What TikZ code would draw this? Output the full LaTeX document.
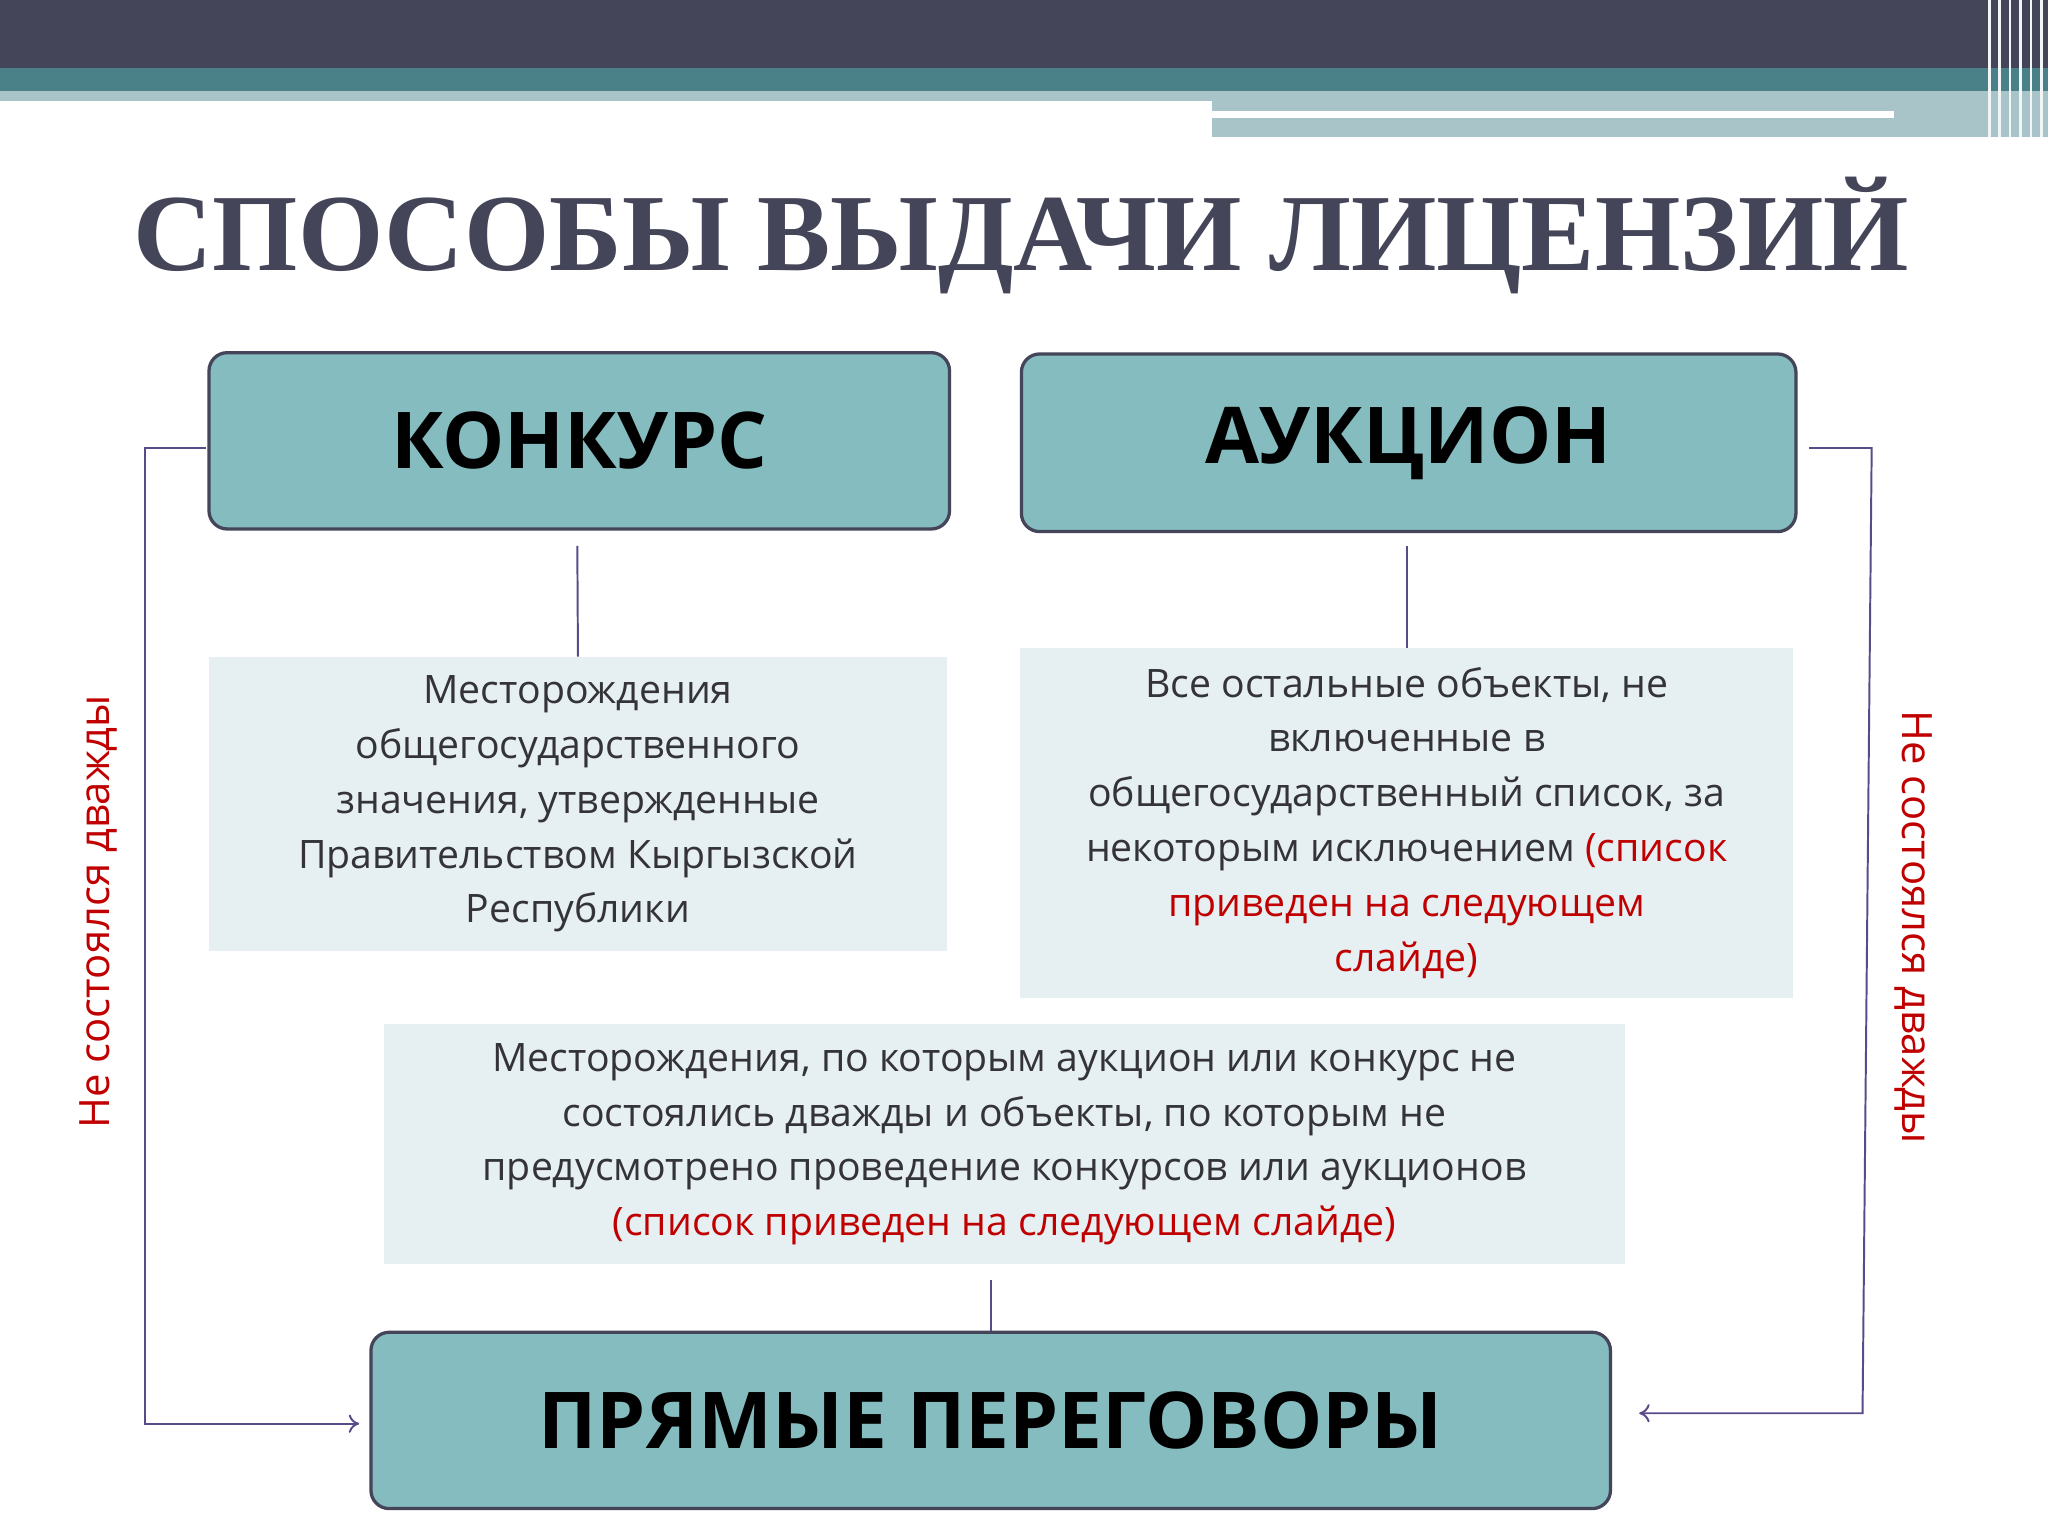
\documentclass[tikz,border=0pt]{standalone}
\usepackage{fontspec}
\usetikzlibrary{arrows.meta}
\setmainfont{Open Sans}
\newfontfamily\titlefont{Liberation Serif}
\definecolor{dark}{HTML}{45455A}
\definecolor{teal1}{HTML}{4A8088}
\definecolor{lteal}{HTML}{A8C4C8}
\definecolor{boxfill}{HTML}{85BCC0}
\definecolor{lightfill}{HTML}{E6EFF1}
\definecolor{linec}{HTML}{5A4A8A}
\definecolor{redt}{HTML}{C00000}
\definecolor{txt}{HTML}{333338}
\begin{document}
\begin{tikzpicture}[x=1pt,y=-1pt,
  bigbox/.style={draw=dark,line width=2.5pt,fill=boxfill,rounded corners=14pt,font=\fontsize{60}{70}\selectfont\bfseries},
  infobox/.style={fill=lightfill,text=txt,align=center,font=\fontsize{30}{42}\selectfont},
  conn/.style={draw=linec,line width=1.5pt},
  side/.style={text=redt,font=\fontsize{32}{38}\selectfont}]
\useasboundingbox (0,0) rectangle (1568,1176);
\fill[white] (0,0) rectangle (1568,1176);
\fill[dark] (0,0) rectangle (1568,52);
\fill[teal1] (0,52) rectangle (1568,70);
\fill[lteal] (0,70) rectangle (928,77);
\fill[lteal] (928,70) rectangle (1568,105);
\fill[white] (928,85) rectangle (1450,90);
\foreach \x in {1522,1530,1538,1546,1554,1562}{\fill[white!85!lteal] (\x,0) rectangle (\x+2,105);}
\node[text=dark,font=\titlefont\fontsize{84}{90}\selectfont\bfseries] (title) at (782,180) {СПОСОБЫ ВЫДАЧИ ЛИЦЕНЗИЙ};
\node[bigbox,minimum width=567pt,minimum height=135pt] (konk) at (443.5,337.5) {КОНКУРС};
\node[bigbox,minimum width=593pt,minimum height=136pt] (auk) at (1078.5,339) {АУКЦИОН};
\node[bigbox,minimum width=949pt,minimum height=135pt] (pryam) at (758.5,1087.5) {ПРЯМЫЕ ПЕРЕГОВОРЫ};
\node[infobox,minimum width=565pt,minimum height=225pt] (b1) at (442.5,615.5) {Месторождения\\общегосударственного\\значения, утвержденные\\Правительством Кыргызской\\Республики};
\node[infobox,minimum width=592pt,minimum height=268pt] (b2) at (1077,630) {Все остальные объекты, не\\включенные в\\общегосударственный список, за\\некоторым исключением \textcolor{redt}{(список}\\\textcolor{redt}{приведен на следующем}\\\textcolor{redt}{слайде)}};
\node[infobox,minimum width=950pt,minimum height=184pt] (b3) at (769,876) {Месторождения, по которым аукцион или конкурс не\\состоялись дважды и объекты, по которым не\\предусмотрено проведение конкурсов или аукционов\\\textcolor{redt}{(список приведен на следующем слайде)}};
\coordinate (k1) at (442,418); \coordinate (a1) at (1077,418); \coordinate (p1) at (759,980);
\draw[conn] (k1) -- (b1.north);
\draw[conn] (a1) -- (b2.north);
\draw[conn] (p1) -- (pryam.north-|p1);
\coordinate (l0) at (158,343); \coordinate (l1) at (111,343); \coordinate (l2) at (111,1090); \coordinate (l3) at (275,1090);
\draw[conn,-{To[length=8pt,width=14pt]}] (l0) -- (l1) -- (l2) -- (l3);
\coordinate (r0) at (1385,343); \coordinate (r1) at (1433,343); \coordinate (r2) at (1426,1082); \coordinate (r3) at (1255,1082);
\draw[conn,-{To[length=8pt,width=14pt]}] (r0) -- (r1) -- (r2) -- (r3);
\node[side,rotate=90] (ls) at (75,698) {Не состоялся дважды};
\node[side,rotate=-90] (rs) at (1465,710) {Не состоялся дважды};
\end{tikzpicture}
\end{document}
